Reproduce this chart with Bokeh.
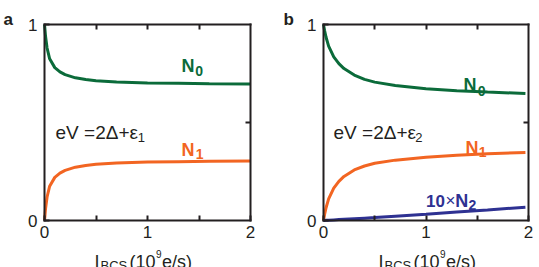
from bokeh.plotting import figure
from bokeh.models import Range1d, FixedTicker, LinearAxis, Label
from bokeh.layouts import row
from bokeh.embed import file_html
from bokeh.resources import INLINE

# ---------------- data ----------------
# panel a : eV = 2Δ + ε1
x_a = [0, 0.01, 0.025, 0.05, 0.1, 0.15, 0.2, 0.3, 0.4, 0.5, 0.7, 1.0, 1.3, 1.6, 2.0]
n0_a = [1.0, 0.94, 0.88, 0.825, 0.78, 0.758, 0.744, 0.728, 0.719, 0.713, 0.707, 0.702, 0.700, 0.698, 0.696]
n1_a = [0.0, 0.06, 0.12, 0.175, 0.22, 0.242, 0.256, 0.272, 0.281, 0.287, 0.293, 0.298, 0.300, 0.302, 0.304]

# panel b : eV = 2Δ + ε2
x_b = [0, 0.01, 0.025, 0.05, 0.1, 0.15, 0.2, 0.3, 0.4, 0.5, 0.7, 1.0, 1.3, 1.6, 1.97]
n0_b = [1.0, 0.97, 0.935, 0.89, 0.835, 0.80, 0.775, 0.742, 0.72, 0.706, 0.689, 0.672, 0.662, 0.655, 0.648]
n1_b = [0.0, 0.03, 0.065, 0.11, 0.165, 0.20, 0.225, 0.258, 0.278, 0.292, 0.308, 0.323, 0.333, 0.340, 0.347]
n2x10_b = [0.0, 0.0003, 0.0008, 0.0015, 0.003, 0.0045, 0.006, 0.009, 0.012, 0.015, 0.022, 0.032, 0.043, 0.054, 0.068]

# axis ticks
x_major = [0, 1, 2]
x_minor = [0.5, 1.5]
y_major = [0, 1]
y_minor = [0.5]

GREEN = "#0b6b3a"
ORANGE = "#f26522"
BLUE = "#2e3192"
INK = "#231f20"
FONT = "Liberation Sans"

H = 267
BOX_TOP = 24      # px from top of canvas to y=1
BOX_BOT = 220     # px from top of canvas to y=0
PY = float(BOX_BOT - BOX_TOP)   # px per y unit


def make_fig(width, box_left, box_right):
    px = (box_right - box_left) / 2.0
    xr = Range1d(-box_left / px, 2 + (width - box_right) / px)
    yr = Range1d(-(H - BOX_BOT) / PY, 1 + BOX_TOP / PY)
    p = figure(width=width, height=H, output_backend="svg", toolbar_location=None,
               x_range=xr, y_range=yr,
               min_border_left=0, min_border_right=0,
               min_border_top=0, min_border_bottom=0,
               x_axis_type=None, y_axis_type=None)
    if p.title is not None:
        p.title.visible = False
    p.grid.visible = False
    p.outline_line_color = None

    common = dict(axis_line_color=INK, axis_line_width=2, axis_line_cap="square",
                  major_tick_in=5, major_tick_out=0, major_tick_line_color=INK,
                  major_tick_line_width=2,
                  minor_tick_in=5, minor_tick_out=0, minor_tick_line_color=INK,
                  minor_tick_line_width=2,
                  major_label_text_font=FONT, major_label_text_font_size="17px",
                  major_label_text_color=INK)

    bottom = LinearAxis(ticker=FixedTicker(ticks=x_major, minor_ticks=x_minor),
                        fixed_location=0, bounds=(0, 2),
                        major_label_standoff=5, **common)
    left_ax = LinearAxis(ticker=FixedTicker(ticks=y_major, minor_ticks=[]),
                         fixed_location=0, bounds=(0, 1),
                         major_label_standoff=7, **common)
    top = LinearAxis(ticker=FixedTicker(ticks=[], minor_ticks=x_minor + [1]),
                     fixed_location=1, bounds=(0, 2),
                     major_label_standoff=0, **common)
    right_ax = LinearAxis(ticker=FixedTicker(ticks=[], minor_ticks=y_minor),
                          fixed_location=2, bounds=(0, 1),
                          major_label_standoff=0, **common)
    p.add_layout(bottom, "below")
    p.add_layout(left_ax, "left")
    p.add_layout(top, "above")
    p.add_layout(right_ax, "right")
    return p, px


def txt(p, x, y, s, size, color=INK, bold=False):
    p.add_layout(Label(x=x, y=y, text=s, text_font=FONT,
                       text_font_size=f"{size}px",
                       text_font_style="bold" if bold else "normal",
                       text_color=color, text_baseline="alphabetic",
                       text_align="left"))


def xlabel(p, px, start):
    # pieces laid out left to right, offsets in px from the start
    base = -41 / PY
    txt(p, (start + 0.0) / px, base, "I", 18)
    txt(p, (start + 6.0) / px, base - 4 / PY, "BCS", 13)
    txt(p, (start + 35.0) / px, base, "(10", 18)
    txt(p, (start + 61.5) / px, base + 8 / PY, "9", 10)
    txt(p, (start + 67.5) / px, base, "e/s)", 18)


# ---------------- panel a ----------------
pa, pxa = make_fig(275, 44, 250)
pa.line(x_a, n0_a, line_color=GREEN, line_width=3)
pa.line(x_a, n1_a, line_color=ORANGE, line_width=3)
txt(pa, 1.33, 0.786, "N", 18, GREEN, True)
txt(pa, 1.463, 0.765, "0", 14, GREEN, True)
txt(pa, 1.33, 0.362, "N", 18, ORANGE, True)
txt(pa, 1.468, 0.337, "1", 14, ORANGE, True)
txt(pa, 0.107, 0.449, "eV =2Δ+ε", 19)
txt(pa, 0.905, 0.423, "1", 13)
txt(pa, -41 / pxa, 1 + 5 / PY, "a", 17, INK, True)
xlabel(pa, pxa, 50)

# ---------------- panel b ----------------
pb, pxb = make_fig(264, 48, 253)
pb.line(x_b, n0_b, line_color=GREEN, line_width=3)
pb.line(x_b, n1_b, line_color=ORANGE, line_width=3)
pb.line(x_b, n2x10_b, line_color=BLUE, line_width=3)
txt(pb, 1.366, 0.689, "N", 18, GREEN, True)
txt(pb, 1.505, 0.663, "0", 14, GREEN, True)
txt(pb, 1.385, 0.372, "N", 18, ORANGE, True)
txt(pb, 1.515, 0.347, "1", 14, ORANGE, True)
txt(pb, 1.0, 0.102, "10", 17, BLUE, True)
txt(pb, 1.19, 0.102, "×", 17, BLUE)
txt(pb, 1.285, 0.102, "N", 18, BLUE, True)
txt(pb, 1.415, 0.077, "2", 14, BLUE, True)
txt(pb, 0.098, 0.449, "eV =2Δ+ε", 19)
txt(pb, 0.895, 0.423, "2", 13)
txt(pb, -40 / pxb, 1 + 5 / PY, "b", 17, INK, True)
xlabel(pb, pxb, 55)

layout = row(pa, pb)
open("out.html", "w").write(file_html(layout, INLINE))
